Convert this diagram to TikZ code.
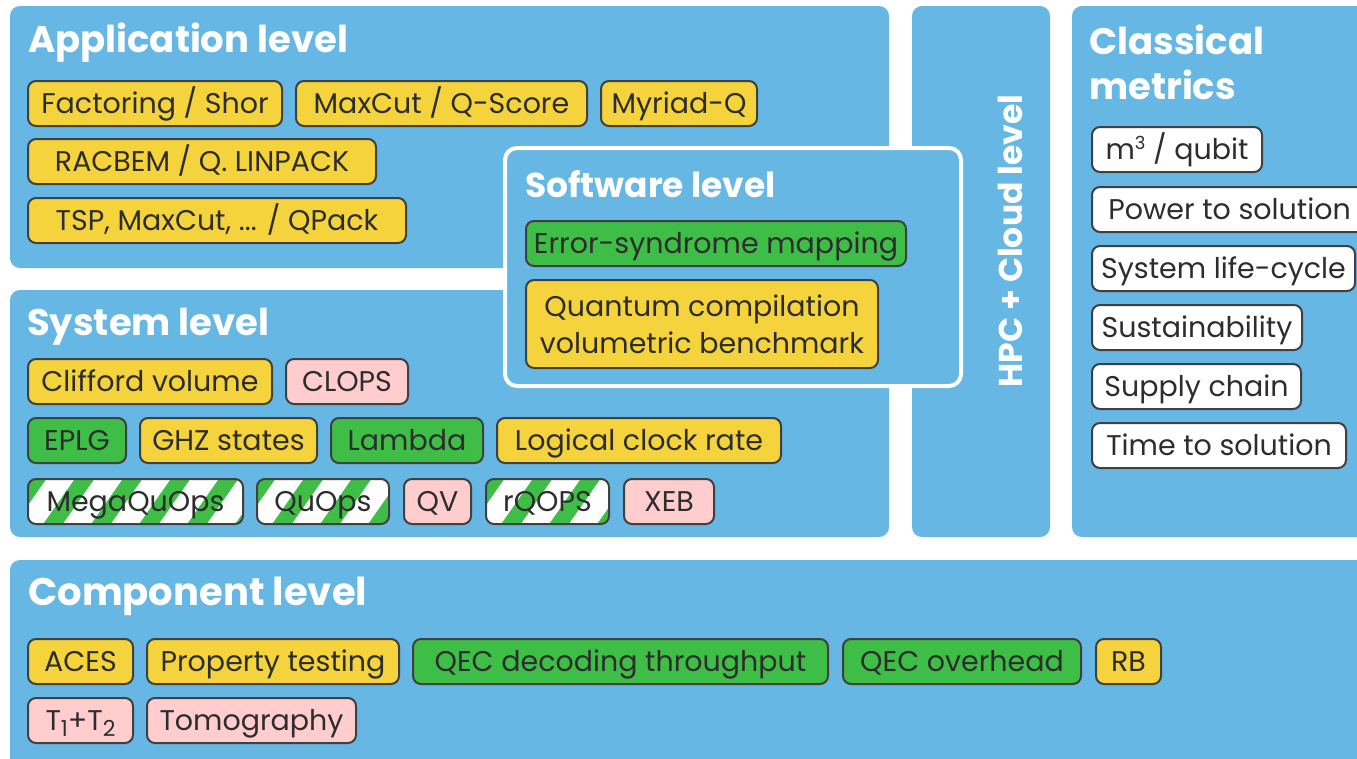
\documentclass[tikz,border=0pt]{standalone}
\usepackage{fontspec}
\setmainfont{Poppins}
\usetikzlibrary{calc}
\definecolor{panel}{RGB}{102,183,228}
\definecolor{tyellow}{RGB}{244,211,60}
\definecolor{tgreen}{RGB}{62,190,70}
\definecolor{tpink}{RGB}{255,205,205}
\definecolor{tborder}{RGB}{64,64,64}
\definecolor{ttext}{RGB}{45,45,45}
\newcommand{\subtxt}[1]{\raisebox{-6pt}{\fontsize{22}{22}\selectfont #1}}
\newcommand{\suptxt}[1]{\raisebox{10pt}{\fontsize{18}{18}\selectfont #1}}
\tikzset{
  panelbox/.style={fill=panel, rounded corners=10pt, draw=none},
  tagbase/.style={draw=tborder, line width=2pt, rounded corners=8pt, anchor=north west,
    minimum height=45pt, inner sep=0pt, text=ttext, font=\fontsize{28.5}{33}\selectfont,
    text height=24pt, text depth=4pt},
  ytag/.style={tagbase, fill=tyellow},
  gtag/.style={tagbase, fill=tgreen},
  ptag/.style={tagbase, fill=tpink},
  wtag/.style={tagbase, fill=white},
  stag/.style={tagbase, fill=white, path picture={
      \foreach \i in {-4,...,8}{
        \draw[tgreen, line width=16pt]
          ($(path picture bounding box.south west)+(\i*48pt-30pt,-10pt)$) -- ++(70pt,100pt);
      }}},
  title/.style={anchor=base west, text=white, inner sep=0pt,
    font=\bfseries\fontsize{37}{46}\selectfont},
}
\begin{document}
\begin{tikzpicture}[x=1pt,y=-1pt]
\useasboundingbox (0,0) rectangle (1357,758);
\clip (0,0) rectangle (1357,758);
\fill[white] (0,0) rectangle (1357,758);
% panels
\path[panelbox] (10,6) rectangle (889,268);
\path[panelbox] (10,290) rectangle (889,537);
\path[panelbox] (912,6) rectangle (1050,537);
\path[panelbox] (1072,6) rectangle (1380,537);
\path[panelbox] (10,560) rectangle (1380,790);
\draw[white, line width=4pt, fill=panel, rounded corners=12pt] (505,148) rectangle (961,386);

% titles
\node[title] (tapp) at (28,52) {Application level};
\node[title] (tsys) at (27,335) {System level};
\node[title, font=\bfseries\fontsize{38.5}{46}\selectfont] (tcomp) at (28,605) {Component level};
\node[title, font=\bfseries\fontsize{34.5}{40}\selectfont] (tsoft) at (525,197) {Software level};
\node[title] (tclass) at (1089,54) {Classical};
\node[title] (tmet) at (1089,99) {metrics};
\node[title, rotate=90, anchor=center, font=\bfseries\fontsize{33}{40}\selectfont] (thpc) at (1010,241) {HPC + Cloud level};

% application
\node[ytag, minimum width=254pt] (fact) at (27,80) {Factoring / Shor};
\node[ytag, minimum width=291pt] (maxq) at (295,80) {MaxCut / Q-Score};
\node[ytag, minimum width=156pt] (myr) at (600,80) {Myriad-Q};
\node[ytag, minimum width=348pt] (racb) at (27,138) {RACBEM / Q. LINPACK};
\node[ytag, minimum width=378pt] (tsp) at (27,197) {TSP, MaxCut, ... / QPack};

% software
\node[gtag, minimum width=380pt] (err) at (525,220) {Error-syndrome mapping};
\node[ytag, minimum width=352pt, minimum height=88pt, align=center, text height=, text depth=,
  font=\fontsize{28.5}{37}\selectfont] (qcomp) at (525,279) {Quantum compilation\\volumetric benchmark};

% system
\node[ytag, minimum width=244pt] (cliff) at (27,358) {Clifford volume};
\node[ptag, minimum width=122pt] (clops) at (285,358) {CLOPS};
\node[gtag, minimum width=98pt] (eplg) at (27,417) {EPLG};
\node[ytag, minimum width=177pt] (ghz) at (139,417) {GHZ states};
\node[gtag, minimum width=152pt] (lam) at (330,417) {Lambda};
\node[ytag, minimum width=284pt] (lcr) at (496,417) {Logical clock rate};
\node[stag, minimum width=215pt] (mqo) at (27,478) {MegaQuOps};
\node[stag, minimum width=132pt] (quo) at (256,478) {QuOps};
\node[ptag, minimum width=67pt] (qv) at (403,478) {QV};
\node[stag, minimum width=123pt] (rqo) at (485,478) {rQOPS};
\node[ptag, minimum width=90pt] (xeb) at (623,478) {XEB};

% classical
\node[wtag, minimum width=170pt] (m3) at (1091,126) {m\suptxt{3} / qubit};
\node[wtag, minimum width=275pt] (pow) at (1091,186) {Power to solution};
\node[wtag, minimum width=263pt] (slc) at (1091,245) {System life-cycle};
\node[wtag, minimum width=210pt] (sus) at (1091,304) {Sustainability};
\node[wtag, minimum width=209pt] (sup) at (1091,363) {Supply chain};
\node[wtag, minimum width=254pt] (tts) at (1091,422) {Time to solution};

% component
\node[ytag, minimum width=105pt] (aces) at (27,638) {ACES};
\node[ytag, minimum width=252pt] (prop) at (146,638) {Property testing};
\node[gtag, minimum width=415pt] (qecd) at (412,638) {QEC decoding throughput};
\node[gtag, minimum width=238pt] (qeco) at (842,638) {QEC overhead};
\node[ytag, minimum width=65pt] (rb) at (1095,638) {RB};
\node[ptag, minimum width=105pt] (t12) at (27,697) {T\subtxt{1}+T\subtxt{2}};
\node[ptag, minimum width=209pt] (tomo) at (146,697) {Tomography};
\end{tikzpicture}
\end{document}
